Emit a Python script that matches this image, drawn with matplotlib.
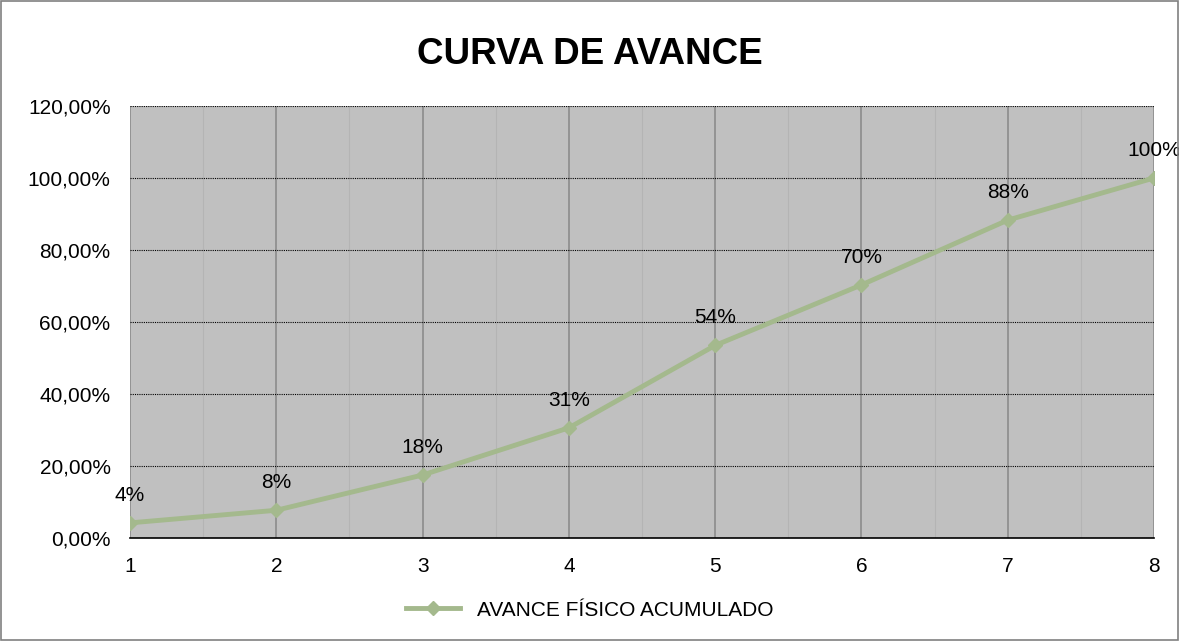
import matplotlib
matplotlib.use("Agg")
import matplotlib.pyplot as plt
from matplotlib.patches import Rectangle
from matplotlib.ticker import FuncFormatter, MultipleLocator

plt.rcParams["font.family"] = ["Liberation Sans", "DejaVu Sans"]

periods = [1, 2, 3, 4, 5, 6, 7, 8]
avance = [0.042, 0.077, 0.175, 0.306, 0.535, 0.703, 0.883, 1.0]
series_name = "AVANCE FÍSICO ACUMULADO"
title = "CURVA DE AVANCE"

line_color = "#A4B98D"

fig = plt.figure(figsize=(11.79, 6.41), dpi=100)
fig.patches.append(Rectangle((0.001, 0.001), 0.998, 0.998, transform=fig.transFigure,
                             fill=False, edgecolor="#808080", linewidth=1.2))
ax = fig.add_axes([0.1103, 0.1607, 0.8685, 0.6739])
ax.set_facecolor("#C0C0C0")

ax.plot(periods, avance, color=line_color, linewidth=3.5, marker="D",
        markersize=7, label=series_name, zorder=3)
for x, y in zip(periods, avance):
    ax.annotate(f"{y * 100:.0f}%", (x, y), xytext=(0, 20), textcoords="offset points",
                ha="center", va="center", fontsize=15)

ax.set_xlim(1, 8)
ax.set_ylim(0, 1.2)
ax.yaxis.set_major_locator(MultipleLocator(0.2))
ax.yaxis.set_major_formatter(FuncFormatter(lambda v, _: f"{v * 100:.2f}%".replace(".", ",")))
ax.xaxis.set_major_locator(MultipleLocator(1))
ax.xaxis.set_minor_locator(MultipleLocator(0.5))

ax.grid(axis="y", which="major", color="black", linestyle=(0, (1, 1)), linewidth=0.8)
ax.grid(axis="x", which="major", color="#8C8C8C", linewidth=1.2)
ax.grid(axis="x", which="minor", color="#B4B4B4", linewidth=0.8)
ax.set_axisbelow(True)

for side in ["top", "right", "left"]:
    ax.spines[side].set_visible(False)
ax.spines["bottom"].set_color("black")
ax.spines["bottom"].set_linewidth(1.2)
ax.tick_params(axis="both", which="both", length=0, labelsize=15)
ax.tick_params(axis="x", pad=14)
ax.tick_params(axis="y", pad=14)

fig.suptitle(title, fontsize=26.5, fontweight="bold", y=0.942)
fig.legend(loc="lower center", bbox_to_anchor=(0.5, 0.004), frameon=False,
           fontsize=15, handlelength=2.6)

fig.savefig("out.png", dpi=100)
